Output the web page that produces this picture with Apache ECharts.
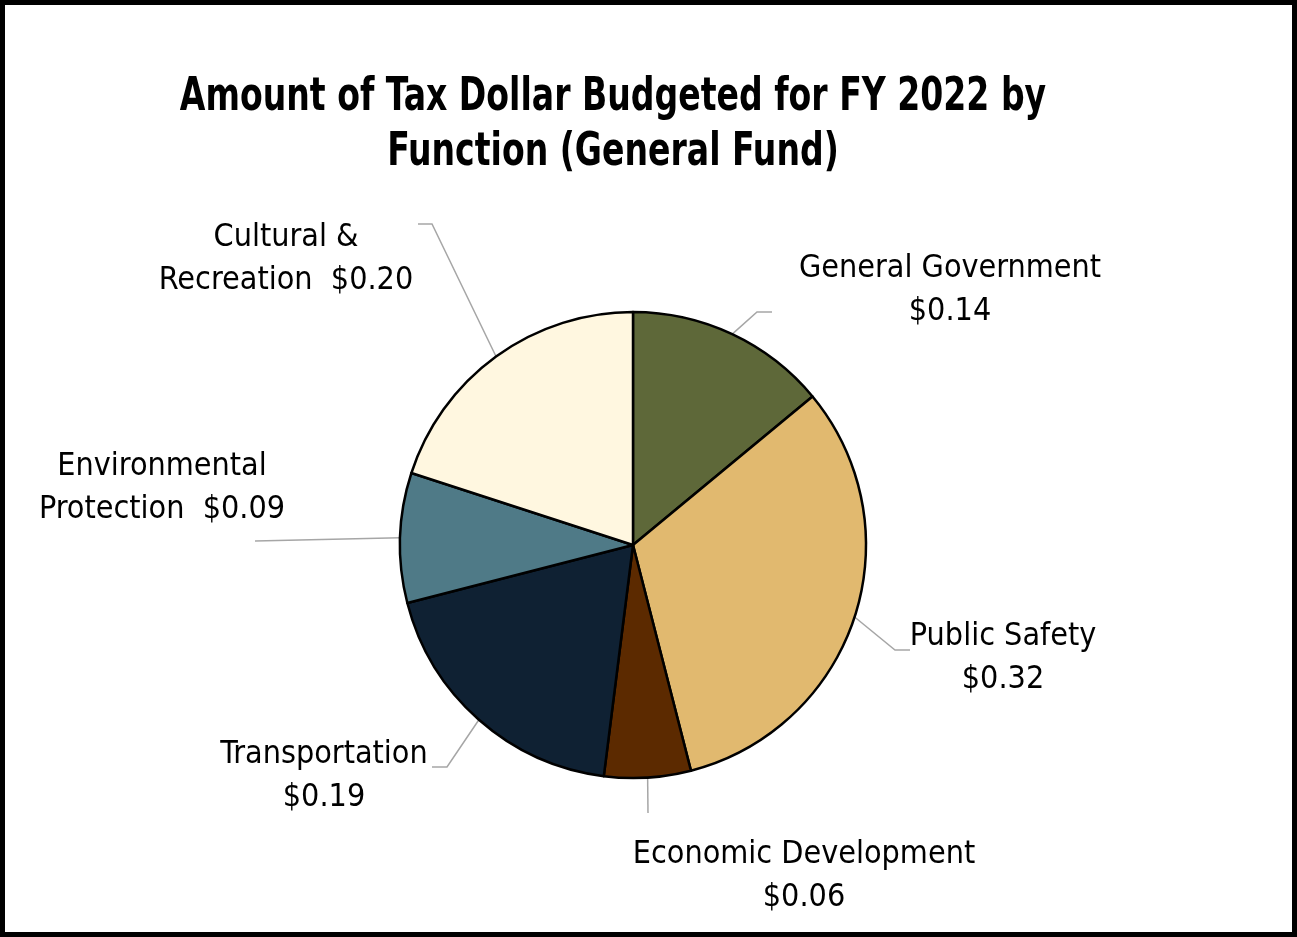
<!DOCTYPE html>
<html>
<head>
<meta charset="utf-8">
<script src="https://cdn.jsdelivr.net/npm/echarts@6/dist/echarts.min.js"></script>
<style>
  html, body { margin: 0; padding: 0; background: #fff; }
  #chart { width: 1297px; height: 937px; }
</style>
</head>
<body>
<div id="chart"></div>
<script>
// ---- Data ----
const titleText = 'Amount of Tax Dollar Budgeted for FY 2022 by\nFunction (General Fund)';
const categories = ['General Government', 'Public Safety', 'Economic Development', 'Transportation', 'Environmental Protection', 'Cultural & Recreation'];
const values = [0.14, 0.32, 0.06, 0.19, 0.09, 0.20];
// how each label is broken into lines ({v} = value)
const labelTemplates = ['General Government\n{v}', 'Public Safety\n{v}', 'Economic Development\n{v}', 'Transportation\n{v}', 'Environmental\nProtection  {v}', 'Cultural &\nRecreation  {v}'];
const colors = ['#5e6839', '#e1b96f', '#5c2a00', '#0f2133', '#4f7a87', '#fff7e0'];

// ---- Layout (label anchors & leader line elbows, px) ----
const labelCenters = [[950, 290], [1003, 658], [804, 876], [324, 776], [162, 488], [286, 259]];
const lineElbows = [[[757, 312], [772, 312]], [[895, 650], [910, 650]], [[648, 813], [648, 813]], [[447, 767], [432, 767]], [[255, 541], [255, 541]], [[432, 224], [418, 224]]];

const FONT = '"Liberation Sans Narrow", "Arial Narrow", "DejaVu Sans Condensed", sans-serif';

const chart = echarts.init(document.getElementById('chart'), null, { renderer: 'canvas' });
chart.setOption({
  backgroundColor: '#fff',
  animation: false,
  graphic: [{
    type: 'rect',
    shape: { x: 2.5, y: 2.5, width: 1292, height: 932 },
    style: { fill: 'none', stroke: '#000', lineWidth: 5 },
    silent: true
  }, {
    type: 'text',
    x: 613,
    y: 71,
    scaleX: 0.8,
    silent: true,
    style: {
      text: titleText,
      fontFamily: FONT,
      fontWeight: 'bold',
      fontSize: 46,
      lineHeight: 55,
      fill: '#000',
      textAlign: 'center',
      textVerticalAlign: 'top'
    }
  }],
  series: [{
    type: 'pie',
    center: [633, 545],
    radius: [0, 233],
    startAngle: 90,
    clockwise: true,
    data: categories.map((c, i) => ({ name: c, value: values[i], itemStyle: { color: colors[i] } })),
    itemStyle: { borderColor: '#000', borderWidth: 2.5 },
    label: {
      show: true,
      position: 'outside',
      fontFamily: FONT,
      fontSize: 32,
      lineHeight: 43,
      color: '#000',
      formatter: p => labelTemplates[p.dataIndex].replace('{v}', '$' + p.value.toFixed(2))
    },
    labelLine: { show: true, lineStyle: { color: '#a6a6a6', width: 1.5 }, length: 20, length2: 20 },
    labelLayout: function (params) {
      const i = params.dataIndex;
      const start = params.labelLinePoints ? params.labelLinePoints[0] : lineElbows[i][0];
      return {
        x: labelCenters[i][0],
        y: labelCenters[i][1],
        align: 'center',
        verticalAlign: 'middle',
        labelLinePoints: [start, lineElbows[i][0], lineElbows[i][1]]
      };
    },
    emphasis: { disabled: true }
  }]
});
</script>
</body>
</html>
